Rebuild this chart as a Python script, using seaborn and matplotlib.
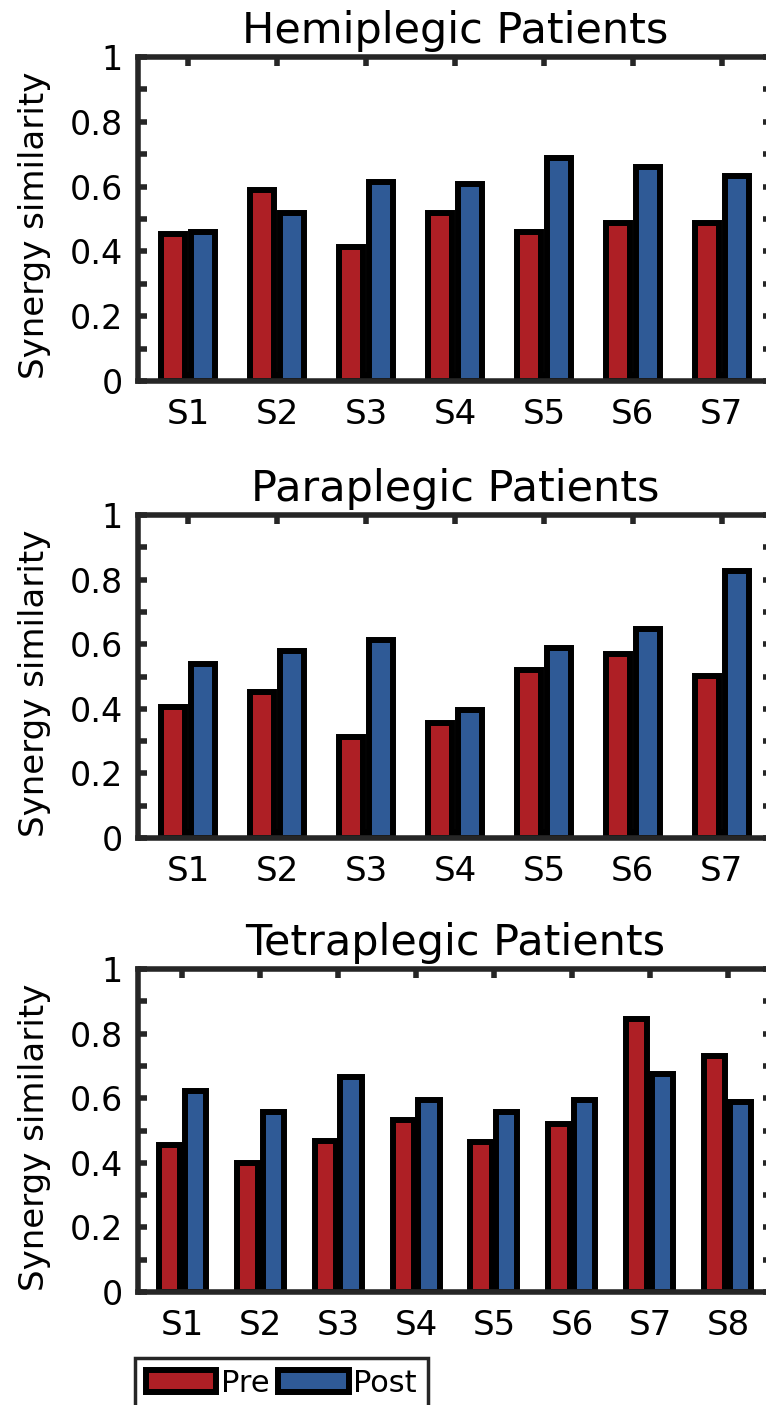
import matplotlib
matplotlib.use("Agg")
import matplotlib.pyplot as plt
import matplotlib.patches as mpatches
from matplotlib.ticker import MultipleLocator, FixedLocator, FixedFormatter
import numpy as np
import pandas as pd
import seaborn as sns

# ---------------- data ----------------
titles = ["Hemiplegic Patients", "Paraplegic Patients", "Tetraplegic Patients"]
subjects_7 = ["S1", "S2", "S3", "S4", "S5", "S6", "S7"]
subjects_8 = ["S1", "S2", "S3", "S4", "S5", "S6", "S7", "S8"]
phases = ["Pre", "Post"]

hemi_pre = [0.455, 0.590, 0.414, 0.517, 0.460, 0.487, 0.487]
hemi_post = [0.460, 0.520, 0.613, 0.608, 0.688, 0.660, 0.634]

para_pre = [0.406, 0.452, 0.313, 0.356, 0.520, 0.571, 0.503]
para_post = [0.538, 0.580, 0.613, 0.396, 0.587, 0.646, 0.827]

tetra_pre = [0.456, 0.400, 0.469, 0.534, 0.463, 0.519, 0.844, 0.730]
tetra_post = [0.621, 0.558, 0.666, 0.593, 0.558, 0.593, 0.674, 0.589]

ytick_vals = [0, 0.2, 0.4, 0.6, 0.8, 1.0]
ytick_labels = ["0", "0.2", "0.4", "0.6", "0.8", "1"]
ylabel = "Synergy similarity"

colors = ["#AE1F25", "#2F5A96"]
spine_col = "#262626"

# ---------------- style ----------------
sns.set_style("white")
plt.rcParams["font.family"] = ["DejaVu Sans"]
plt.rcParams["text.color"] = "black"
plt.rcParams["axes.labelcolor"] = "black"

fig = plt.figure(figsize=(7.66, 14.05), dpi=100)

W, H = 766.0, 1405.0
left_px, right_px = 138.0, 772.0
panels_px = [(57.0, 381.0), (515.0, 838.0), (969.0, 1292.0)]

datasets = [
    (subjects_7, hemi_pre, hemi_post),
    (subjects_7, para_pre, para_post),
    (subjects_8, tetra_pre, tetra_post),
]

lw_spine = 4.0
lw_bar = 4.3
for (top, bot), title, (subs, pre, post) in zip(panels_px, titles, datasets):
    ax = fig.add_axes([left_px / W, 1 - bot / H, (right_px - left_px) / W, (bot - top) / H])
    df = pd.DataFrame({
        "subject": subs * 2,
        "phase": ["Pre"] * len(subs) + ["Post"] * len(subs),
        "value": list(pre) + list(post),
    })
    sns.barplot(data=df, x="subject", y="value", hue="phase", hue_order=phases,
                order=subs, palette=colors, saturation=1, width=0.666, gap=0.19,
                edgecolor="black", linewidth=lw_bar, errorbar=None, legend=False, ax=ax)
    n = len(subs)
    ax.set_xlim(-0.565, n - 1 + 0.565)
    ax.set_ylim(0, 1)
    ax.yaxis.set_major_locator(FixedLocator(ytick_vals))
    ax.yaxis.set_major_formatter(FixedFormatter(ytick_labels))
    ax.yaxis.set_minor_locator(MultipleLocator(0.1))
    for s in ax.spines.values():
        s.set_visible(True)
        s.set_linewidth(lw_spine)
        s.set_color(spine_col)
    ax.tick_params(axis="both", which="both", direction="in", length=6.5, width=lw_spine,
                   color=spine_col, top=True, right=True, bottom=True, left=True)
    ax.tick_params(axis="y", which="major", labelsize=24, pad=11, labelcolor="black")
    ax.tick_params(axis="x", which="major", labelsize=24.5, pad=12, labelcolor="black")
    ax.tick_params(axis="x", which="minor", bottom=False, top=False)
    ax.set_xlabel("")
    ax.set_ylabel(ylabel, fontsize=24.5, color="black")
    ax.yaxis.set_label_coords(-0.137, 0.48)
    ax.set_title(title, fontsize=31, pad=10, color="black")

handles = [mpatches.Patch(facecolor=c, edgecolor="black", linewidth=lw_bar) for c in colors]
leg = fig.legend(handles, phases, loc="upper left", bbox_to_anchor=(135 / W, 1 - 1358 / H),
                 ncol=2, fontsize=22, frameon=True, fancybox=False, handlelength=2.3,
                 handleheight=0.75, handletextpad=0.15, columnspacing=0.3, borderpad=0.35,
                 borderaxespad=0, labelcolor="black")
leg.get_frame().set_edgecolor(spine_col)
leg.get_frame().set_linewidth(2.5)
leg.get_frame().set_facecolor("white")
leg.get_frame().set_alpha(1)

fig.savefig("out.png", dpi=100)
